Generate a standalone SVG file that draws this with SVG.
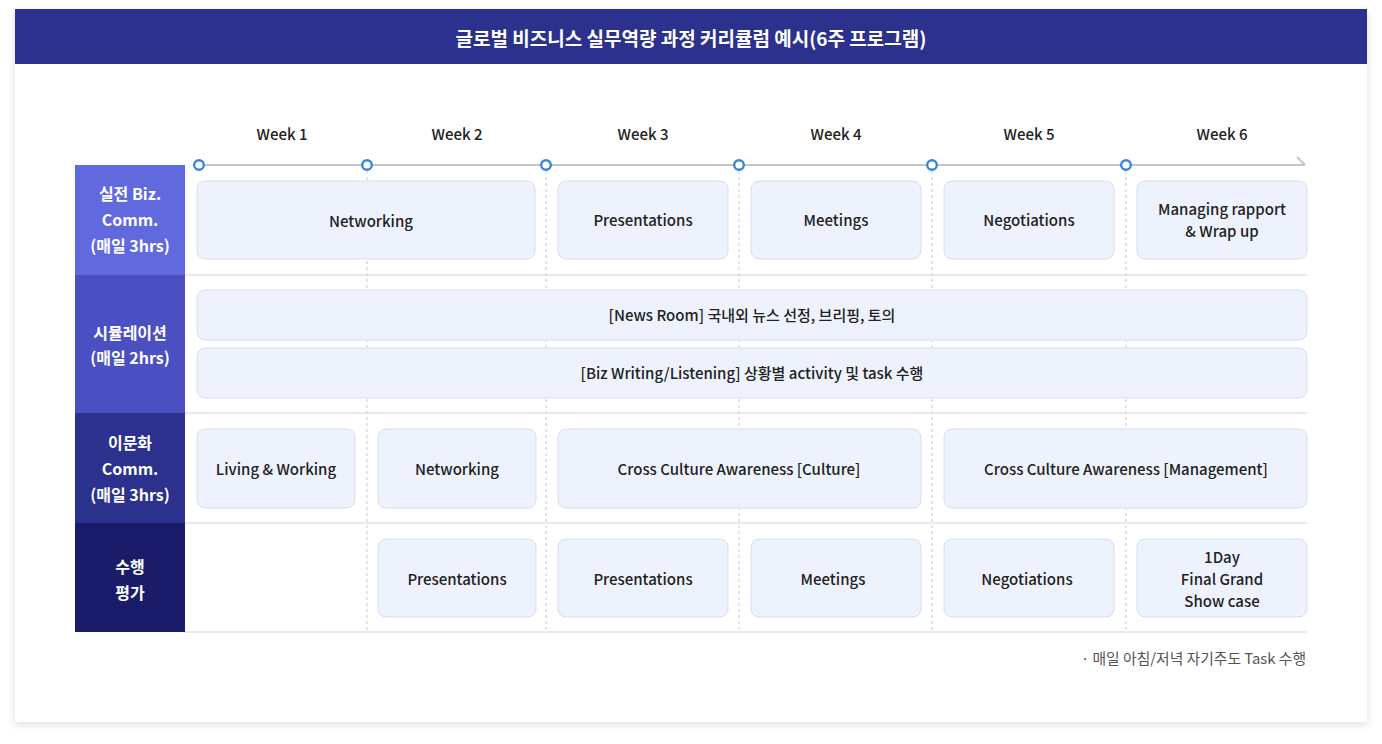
<svg xmlns="http://www.w3.org/2000/svg" width="1382" height="744" viewBox="0 0 1382 744">
<defs>
<filter id="sh" x="-5%" y="-5%" width="110%" height="115%">
<feDropShadow dx="0" dy="3" stdDeviation="4" flood-color="#000" flood-opacity="0.12"/>
</filter>
<style>
text{font-family:"Noto Sans CJK KR","Noto Sans",sans-serif;}
.box{fill:#eef2fd;stroke:#d6dff0;stroke-width:1;}
.bt{font-size:15px;font-weight:500;fill:#222;text-anchor:middle;}
.wk{font-size:15px;font-weight:500;fill:#222;text-anchor:middle;}
.hd{font-size:16px;font-weight:700;fill:#fff;text-anchor:middle;}
.sep{stroke:#d3d4da;stroke-width:1.2;}
.dash{stroke:#c8c9cf;stroke-width:1;stroke-dasharray:3 3;}
.dot{fill:#fff;stroke:#3b86d4;stroke-width:2.4;}
</style>
</defs>
<rect x="0" y="0" width="1382" height="744" fill="#ffffff"/>
<rect x="15" y="9" width="1352" height="713" fill="#ffffff" filter="url(#sh)"/>
<rect x="15" y="9" width="1352" height="55" fill="#2b318c"/>
<text x="691" y="46" font-size="19" font-weight="700" fill="#fff" text-anchor="middle">글로벌 비즈니스 실무역량 과정 커리큘럼 예시(6주 프로그램)</text>

<g id="weeks">
<text class="wk" x="282" y="140">Week 1</text>
<text class="wk" x="457" y="140">Week 2</text>
<text class="wk" x="643" y="140">Week 3</text>
<text class="wk" x="836" y="140">Week 4</text>
<text class="wk" x="1029" y="140">Week 5</text>
<text class="wk" x="1222" y="140">Week 6</text>
</g>

<g id="connectors">
<line class="dash" x1="367" y1="165" x2="367" y2="632"/>
<line class="dash" x1="546" y1="165" x2="546" y2="632"/>
<line class="dash" x1="739" y1="165" x2="739" y2="632"/>
<line class="dash" x1="932" y1="165" x2="932" y2="632"/>
<line class="dash" x1="1126" y1="165" x2="1126" y2="632"/>
<line x1="199" y1="165" x2="1305" y2="165" stroke="#c3c5cb" stroke-width="2"/>
<polyline points="1297,157 1305,165" fill="none" stroke="#c3c5cb" stroke-width="2"/>
<line class="sep" x1="185" y1="275" x2="1307" y2="275"/>
<line class="sep" x1="185" y1="413" x2="1307" y2="413"/>
<line class="sep" x1="185" y1="523" x2="1307" y2="523"/>
<line class="sep" x1="185" y1="632" x2="1307" y2="632"/>
</g>

<g id="milestones">
<circle class="dot" cx="199" cy="165" r="4.8"/>
<circle class="dot" cx="367" cy="165" r="4.8"/>
<circle class="dot" cx="546" cy="165" r="4.8"/>
<circle class="dot" cx="739" cy="165" r="4.8"/>
<circle class="dot" cx="932" cy="165" r="4.8"/>
<circle class="dot" cx="1126" cy="165" r="4.8"/>
</g>

<g id="row1-header">
<rect x="75" y="165" width="110" height="110" fill="#6169df"/>
<text class="hd" x="130" y="200">실전 Biz.</text>
<text class="hd" x="130" y="226">Comm.</text>
<text class="hd" x="130" y="252">(매일 3hrs)</text>
</g>
<g id="row2-header">
<rect x="75" y="275" width="110" height="138" fill="#4a4fc1"/>
<text class="hd" x="130" y="339">시뮬레이션</text>
<text class="hd" x="130" y="364">(매일 2hrs)</text>
</g>
<g id="row3-header">
<rect x="75" y="413" width="110" height="110" fill="#2b318d"/>
<text class="hd" x="130" y="449">이문화</text>
<text class="hd" x="130" y="475">Comm.</text>
<text class="hd" x="130" y="501">(매일 3hrs)</text>
</g>
<g id="row4-header">
<rect x="75" y="523" width="110" height="109" fill="#1a1c6a"/>
<text class="hd" x="130" y="573">수행</text>
<text class="hd" x="130" y="599">평가</text>
</g>

<g id="r1-networking"><rect class="box" x="197" y="181" width="338" height="78" rx="8"/><text class="bt" x="371" y="227">Networking</text></g>
<g id="r1-presentations"><rect class="box" x="558" y="181" width="170" height="78" rx="8"/><text class="bt" x="643" y="226">Presentations</text></g>
<g id="r1-meetings"><rect class="box" x="751" y="181" width="170" height="78" rx="8"/><text class="bt" x="836" y="226">Meetings</text></g>
<g id="r1-negotiations"><rect class="box" x="944" y="181" width="170" height="78" rx="8"/><text class="bt" x="1029" y="226">Negotiations</text></g>
<g id="r1-managing"><rect class="box" x="1137" y="181" width="170" height="78" rx="8"/><text class="bt" x="1222" y="215">Managing rapport</text><text class="bt" x="1222" y="237">&amp; Wrap up</text></g>

<g id="r2-newsroom"><rect class="box" x="197" y="290" width="1110" height="50" rx="8"/><text class="bt" x="752" y="321">[News Room] 국내외 뉴스 선정, 브리핑, 토의</text></g>
<g id="r2-bizwriting"><rect class="box" x="197" y="348" width="1110" height="50" rx="8"/><text class="bt" x="752" y="379">[Biz Writing/Listening] 상황별 activity 및 task 수행</text></g>

<g id="r3-living"><rect class="box" x="197" y="429" width="158" height="79" rx="8"/><text class="bt" x="276" y="475">Living &amp; Working</text></g>
<g id="r3-networking"><rect class="box" x="378" y="429" width="158" height="79" rx="8"/><text class="bt" x="457" y="475">Networking</text></g>
<g id="r3-cca-culture"><rect class="box" x="558" y="429" width="363" height="79" rx="8"/><text class="bt" x="739" y="475">Cross Culture Awareness [Culture]</text></g>
<g id="r3-cca-management"><rect class="box" x="944" y="429" width="363" height="79" rx="8"/><text class="bt" x="1126" y="475">Cross Culture Awareness [Management]</text></g>

<g id="r4-presentations1"><rect class="box" x="378" y="539" width="158" height="78" rx="8"/><text class="bt" x="457" y="585">Presentations</text></g>
<g id="r4-presentations2"><rect class="box" x="558" y="539" width="170" height="78" rx="8"/><text class="bt" x="643" y="585">Presentations</text></g>
<g id="r4-meetings"><rect class="box" x="751" y="539" width="170" height="78" rx="8"/><text class="bt" x="833" y="585">Meetings</text></g>
<g id="r4-negotiations"><rect class="box" x="944" y="539" width="170" height="78" rx="8"/><text class="bt" x="1027" y="585">Negotiations</text></g>
<g id="r4-finalshow"><rect class="box" x="1137" y="539" width="170" height="78" rx="8"/><text class="bt" x="1222" y="563">1Day</text><text class="bt" x="1222" y="585">Final Grand</text><text class="bt" x="1222" y="607">Show case</text></g>

<text x="1306" y="664" font-size="14.8" fill="#555" text-anchor="end">· 매일 아침/저녁 자기주도 Task 수행</text>
</svg>
